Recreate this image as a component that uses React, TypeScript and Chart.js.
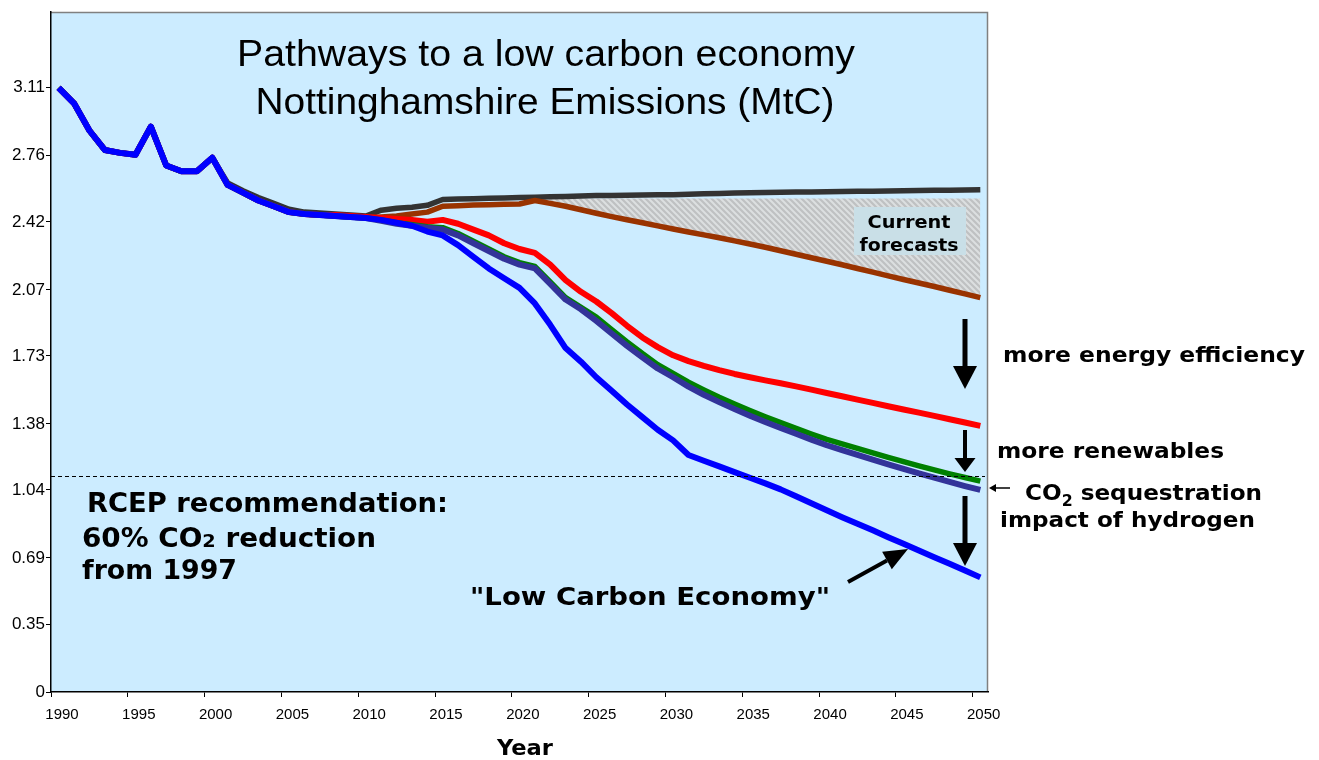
import React, { useEffect, useRef } from "react";
import { Chart, registerables } from "chart.js";

Chart.register(...registerables);

// ---- data -------------------------------------------------------------
const YEARS = [
  1990, 1991, 1992, 1993, 1994, 1995, 1996, 1997, 1998, 1999,
  2000, 2001, 2002, 2003, 2004, 2005, 2006, 2007, 2008, 2009,
  2010, 2011, 2012, 2013, 2014, 2015, 2016, 2017, 2018, 2019,
  2020, 2021, 2022, 2023, 2024, 2025, 2026, 2027, 2028, 2029,
  2030, 2031, 2032, 2033, 2034, 2035, 2036, 2037, 2038, 2039,
  2040, 2041, 2042, 2043, 2044, 2045, 2046, 2047, 2048, 2049,
  2050,
];

const X_TICK_YEARS = [1990, 1995, 2000, 2005, 2010, 2015, 2020, 2025, 2030, 2035, 2040, 2045, 2050];
const Y_TICKS = [0, 0.35, 0.69, 1.04, 1.38, 1.73, 2.07, 2.42, 2.76, 3.11];

// Business as usual (dark grey)
const CURRENT_TRENDS = [
  3.11, 3.03, 2.89, 2.79, 2.775, 2.765, 2.91, 2.71, 2.68, 2.68,
  2.75, 2.62, 2.58, 2.545, 2.515, 2.485, 2.47, 2.465, 2.46, 2.455,
  2.45, 2.48, 2.49, 2.495, 2.505, 2.535, 2.537, 2.539, 2.541, 2.543,
  2.545, 2.547, 2.549, 2.551, 2.553, 2.555, 2.556, 2.557, 2.558, 2.559,
  2.56, 2.562, 2.564, 2.566, 2.568, 2.57, 2.571, 2.572, 2.573, 2.574,
  2.575, 2.576, 2.577, 2.578, 2.579, 2.58, 2.581, 2.582, 2.583, 2.584,
  2.585,
];

// Current forecasts (brown)
const CURRENT_FORECASTS = [
  3.11, 3.03, 2.89, 2.79, 2.775, 2.765, 2.91, 2.71, 2.68, 2.68,
  2.75, 2.61, 2.57, 2.53, 2.5, 2.47, 2.46, 2.455, 2.45, 2.445,
  2.44, 2.445, 2.45, 2.46, 2.47, 2.5, 2.503, 2.506, 2.508, 2.51,
  2.512, 2.53, 2.515, 2.5, 2.482, 2.464, 2.447, 2.431, 2.415, 2.399,
  2.383, 2.368, 2.353, 2.338, 2.322, 2.306, 2.289, 2.271, 2.253, 2.235,
  2.217, 2.199, 2.18, 2.161, 2.142, 2.123, 2.105, 2.087, 2.068, 2.049,
  2.03,
];

// More energy efficiency (red)
const ENERGY_EFFICIENCY = [
  3.11, 3.03, 2.89, 2.79, 2.775, 2.765, 2.91, 2.71, 2.68, 2.68,
  2.75, 2.61, 2.57, 2.53, 2.5, 2.47, 2.46, 2.455, 2.455, 2.45,
  2.445, 2.44, 2.435, 2.43, 2.42, 2.43, 2.41, 2.38, 2.35, 2.31,
  2.28, 2.26, 2.2, 2.12, 2.06, 2.01, 1.95, 1.885, 1.825, 1.775,
  1.733, 1.703, 1.679, 1.657, 1.637, 1.62, 1.604, 1.589, 1.573, 1.556,
  1.539, 1.522, 1.505, 1.488, 1.471, 1.454, 1.438, 1.421, 1.404, 1.387,
  1.37,
];

// More renewables (green)
const RENEWABLES = [
  3.11, 3.03, 2.89, 2.79, 2.775, 2.765, 2.91, 2.71, 2.68, 2.68,
  2.75, 2.61, 2.57, 2.53, 2.5, 2.47, 2.46, 2.455, 2.45, 2.445,
  2.44, 2.43, 2.415, 2.405, 2.395, 2.39, 2.36, 2.32, 2.28, 2.24,
  2.21, 2.19, 2.11, 2.03, 1.98, 1.93, 1.865, 1.802, 1.742, 1.685,
  1.64, 1.595, 1.555, 1.517, 1.482, 1.449, 1.417, 1.387, 1.357, 1.328,
  1.3, 1.277, 1.254, 1.231, 1.208, 1.186, 1.164, 1.143, 1.123, 1.104,
  1.085,
];

// CO2 sequestration (dark blue-violet)
const SEQUESTRATION = [
  3.11, 3.03, 2.89, 2.79, 2.775, 2.765, 2.91, 2.71, 2.68, 2.68,
  2.75, 2.61, 2.57, 2.53, 2.5, 2.47, 2.46, 2.455, 2.45, 2.445,
  2.44, 2.425, 2.41, 2.4, 2.39, 2.38, 2.35, 2.31, 2.27, 2.23,
  2.2, 2.18, 2.1, 2.02, 1.97, 1.91, 1.845, 1.782, 1.722, 1.665,
  1.62, 1.572, 1.53, 1.492, 1.456, 1.422, 1.39, 1.359, 1.329, 1.299,
  1.27, 1.245, 1.22, 1.196, 1.172, 1.148, 1.125, 1.103, 1.081, 1.06,
  1.04,
];

// "Low Carbon Economy" (blue)
const LOW_CARBON = [
  3.11, 3.03, 2.89, 2.79, 2.775, 2.765, 2.91, 2.71, 2.68, 2.68,
  2.75, 2.61, 2.57, 2.53, 2.5, 2.47, 2.46, 2.455, 2.45, 2.445,
  2.44, 2.43, 2.415, 2.4, 2.37, 2.35, 2.3, 2.24, 2.18, 2.13,
  2.08, 2.0, 1.89, 1.77, 1.7, 1.62, 1.55, 1.48, 1.415, 1.35,
  1.295, 1.22, 1.19, 1.161, 1.132, 1.103, 1.074, 1.043, 1.007, 0.971,
  0.935, 0.9, 0.866, 0.832, 0.797, 0.763, 0.728, 0.694, 0.66, 0.625,
  0.59,
];

// 60% reduction from 1997 (RCEP recommendation)
const RCEP_TARGET = 1.11;
// Upper edge of the shaded "current forecasts" band and the year it starts
const FORECAST_BAND_TOP = 2.54;
const FORECAST_BAND_START = 2021;

// ---- drawing helpers --------------------------------------------------
const SANS = "'Liberation Sans', Arial, sans-serif";
const BOLD = "'DejaVu Sans', Verdana, sans-serif";

type Seg = { text: string; size: number; dy?: number };

function drawRich(
  ctx: CanvasRenderingContext2D,
  segs: Seg[],
  x: number,
  y: number,
  width: number,
  family: string,
  weight: string,
  align: "left" | "center" = "left"
) {
  ctx.save();
  let natural = 0;
  const widths = segs.map((s) => {
    ctx.font = `${weight} ${s.size}px ${family}`;
    const w = ctx.measureText(s.text).width;
    natural += w;
    return w;
  });
  const sx = width / natural;
  const left = align === "center" ? x - width / 2 : x;
  ctx.translate(left, y);
  ctx.scale(sx, 1);
  ctx.fillStyle = "#000";
  ctx.textAlign = "left";
  ctx.textBaseline = "alphabetic";
  let cx = 0;
  segs.forEach((s, i) => {
    ctx.font = `${weight} ${s.size}px ${family}`;
    ctx.fillText(s.text, cx, s.dy || 0);
    cx += widths[i];
  });
  ctx.restore();
}

function drawArrow(
  ctx: CanvasRenderingContext2D,
  x1: number,
  y1: number,
  x2: number,
  y2: number,
  shaft: number,
  headLen: number,
  headWidth: number
) {
  const ang = Math.atan2(y2 - y1, x2 - x1);
  const bx = x2 - Math.cos(ang) * headLen;
  const by = y2 - Math.sin(ang) * headLen;
  ctx.save();
  ctx.strokeStyle = "#000";
  ctx.fillStyle = "#000";
  ctx.lineWidth = shaft;
  ctx.beginPath();
  ctx.moveTo(x1, y1);
  ctx.lineTo(bx, by);
  ctx.stroke();
  const px = -Math.sin(ang) * (headWidth / 2);
  const py = Math.cos(ang) * (headWidth / 2);
  ctx.beginPath();
  ctx.moveTo(x2, y2);
  ctx.lineTo(bx + px, by + py);
  ctx.lineTo(bx - px, by - py);
  ctx.closePath();
  ctx.fill();
  ctx.restore();
}

function makeHatch(): CanvasPattern | string {
  const c = document.createElement("canvas");
  c.width = 6;
  c.height = 6;
  const g = c.getContext("2d");
  if (!g) return "#c4c4c4";
  g.fillStyle = "#bfc1c2";
  g.fillRect(0, 0, 6, 6);
  g.strokeStyle = "#dcdfe0";
  g.lineWidth = 2;
  g.beginPath();
  g.moveTo(0, 0);
  g.lineTo(6, 6);
  g.moveTo(-3, 3);
  g.lineTo(3, 9);
  g.moveTo(3, -3);
  g.lineTo(9, 3);
  g.stroke();
  return g.createPattern(c, "repeat") || "#c4c4c4";
}

const plotFrame = {
  id: "plotFrame",
  beforeDraw(chart: any) {
    const { ctx, chartArea: a } = chart;
    ctx.save();
    ctx.fillStyle = "#CCECFF";
    ctx.fillRect(a.left, a.top, a.right - a.left, a.bottom - a.top);
    ctx.strokeStyle = "#808080";
    ctx.lineWidth = 1.5;
    ctx.beginPath();
    ctx.moveTo(a.left, a.top + 0.5);
    ctx.lineTo(a.right - 0.5, a.top + 0.5);
    ctx.lineTo(a.right - 0.5, a.bottom);
    ctx.stroke();
    ctx.restore();
  },
};

const annotations = {
  id: "annotations",
  afterDatasetsDraw(chart: any) {
    const { ctx, chartArea: a, scales } = chart;
    const yT = Math.round(scales.y.getPixelForValue(RCEP_TARGET)) + 0.5;

    // RCEP target line
    ctx.save();
    ctx.strokeStyle = "#000";
    ctx.lineWidth = 1;
    ctx.setLineDash([4, 3]);
    ctx.beginPath();
    ctx.moveTo(a.left, yT);
    ctx.lineTo(a.right - 3, yT);
    ctx.stroke();
    ctx.restore();

    // Title
    drawRich(ctx, [{ text: "Pathways to a low carbon economy", size: 36 }], 546, 66, 618, SANS, "normal", "center");
    drawRich(ctx, [{ text: "Nottinghamshire Emissions (MtC)", size: 36 }], 545, 114, 579, SANS, "normal", "center");

    // "Current forecasts" label
    ctx.save();
    ctx.fillStyle = "#c9dfe7";
    ctx.fillRect(854, 207, 112, 48);
    ctx.restore();
    drawRich(ctx, [{ text: "Current", size: 18 }], 909, 228, 83, BOLD, "bold", "center");
    drawRich(ctx, [{ text: "forecasts", size: 18 }], 909, 251, 99, BOLD, "bold", "center");

    // Step-down arrows
    drawArrow(ctx, 965, 319, 965, 389, 5, 23, 24);
    drawArrow(ctx, 965, 430, 965, 472, 4, 14, 21);
    drawArrow(ctx, 965, 496, 965, 566, 5, 23, 24);
    drawArrow(ctx, 848, 582, 908, 549, 4, 24, 20);
    drawArrow(ctx, 1010, 488, 989, 488, 1.5, 7, 8);

    // Right-hand captions
    drawRich(ctx, [{ text: "more energy efficiency", size: 22 }], 1003, 362, 302, BOLD, "bold");
    drawRich(ctx, [{ text: "more renewables", size: 22 }], 997, 458, 227, BOLD, "bold");
    drawRich(
      ctx,
      [
        { text: "CO", size: 22 },
        { text: "2", size: 15, dy: 6 },
        { text: " sequestration", size: 22 },
      ],
      1025,
      500,
      237,
      BOLD,
      "bold"
    );
    drawRich(ctx, [{ text: "impact of hydrogen", size: 22 }], 1000, 527, 255, BOLD, "bold");

    // RCEP note
    drawRich(ctx, [{ text: "RCEP recommendation:", size: 26 }], 87, 512, 361, BOLD, "bold");
    drawRich(
      ctx,
      [
        { text: "60% CO", size: 26 },
        { text: "2", size: 18 },
        { text: " reduction", size: 26 },
      ],
      82,
      547,
      294,
      BOLD,
      "bold"
    );
    drawRich(ctx, [{ text: "from 1997", size: 26 }], 82, 579, 155, BOLD, "bold");

    // Pathway label
    drawRich(ctx, [{ text: "\"Low Carbon Economy\"", size: 25 }], 470, 605, 360, BOLD, "bold");

    // Axis title
    drawRich(ctx, [{ text: "Year", size: 21 }], 525, 755, 56, BOLD, "bold", "center");
  },
};

export default function App() {
  const ref = useRef<HTMLCanvasElement | null>(null);

  useEffect(() => {
    if (!ref.current) return;
    const hatch = makeHatch();
    const bandPoints = YEARS.filter((y) => y >= FORECAST_BAND_START).map((y) => ({
      x: y,
      y: FORECAST_BAND_TOP,
    }));
    const line = (data: number[], color: string, width = 5.5) => ({
      data,
      borderColor: color,
      backgroundColor: color,
      borderWidth: width,
      pointRadius: 0,
      tension: 0,
      fill: false,
      borderJoinStyle: "round" as const,
    });

    const chart = new Chart(ref.current, {
      type: "line",
      data: {
        labels: YEARS,
        datasets: [
          line(LOW_CARBON, "#0000FF", 6),
          line(SEQUESTRATION, "#333399", 6),
          line(RENEWABLES, "#008000", 5.5),
          line(ENERGY_EFFICIENCY, "#FF0000", 6),
          line(CURRENT_FORECASTS, "#993300", 5.5),
          line(CURRENT_TRENDS, "#333333", 5.5),
          {
            data: bandPoints,
            borderColor: "rgba(0,0,0,0)",
            borderWidth: 0,
            pointRadius: 0,
            backgroundColor: hatch,
            fill: { target: 4 },
          } as any,
        ],
      },
      options: {
        responsive: false,
        animation: false,
        events: [],
        layout: { padding: { top: 12, right: 331, bottom: 0, left: 0 } },
        plugins: {
          legend: { display: false },
          tooltip: { enabled: false },
          title: { display: false },
        },
        scales: {
          x: {
            type: "linear",
            min: 1989.5,
            max: 2050.5,
            afterBuildTicks: (scale: any) => {
              scale.ticks = X_TICK_YEARS.map((y) => ({ value: y - 0.5 }));
            },
            afterFit: (scale: any) => {
              scale.height = 68;
            },
            ticks: {
              color: "#000",
              font: { family: SANS, size: 15 },
              labelOffset: 11,
              padding: 9,
              maxRotation: 0,
              autoSkip: false,
              callback: (v: any) => String(Math.round(Number(v) + 0.5)),
            },
            grid: { drawOnChartArea: false, drawTicks: true, tickLength: 5, color: "#000" },
            border: { display: true, color: "#000", width: 1.5 },
          },
          y: {
            type: "linear",
            min: 0,
            max: 3.5,
            afterBuildTicks: (scale: any) => {
              scale.ticks = Y_TICKS.map((v) => ({ value: v }));
            },
            afterFit: (scale: any) => {
              scale.width = 51;
            },
            ticks: {
              color: "#000",
              font: { family: SANS, size: 17 },
              padding: 1,
              autoSkip: false,
              callback: (v: any) => (Number(v) === 0 ? "0" : Number(v).toFixed(2)),
            },
            grid: { drawOnChartArea: false, drawTicks: true, tickLength: 5, color: "#000" },
            border: { display: true, color: "#000", width: 1.5 },
          },
        },
      },
      plugins: [plotFrame, annotations],
    });

    return () => chart.destroy();
  }, []);

  return (
    <div style={{ position: "absolute", left: 0, top: 0, width: 1319, height: 760, background: "#fff" }}>
      <canvas ref={ref} width={1319} height={760} style={{ display: "block" }} />
    </div>
  );
}
